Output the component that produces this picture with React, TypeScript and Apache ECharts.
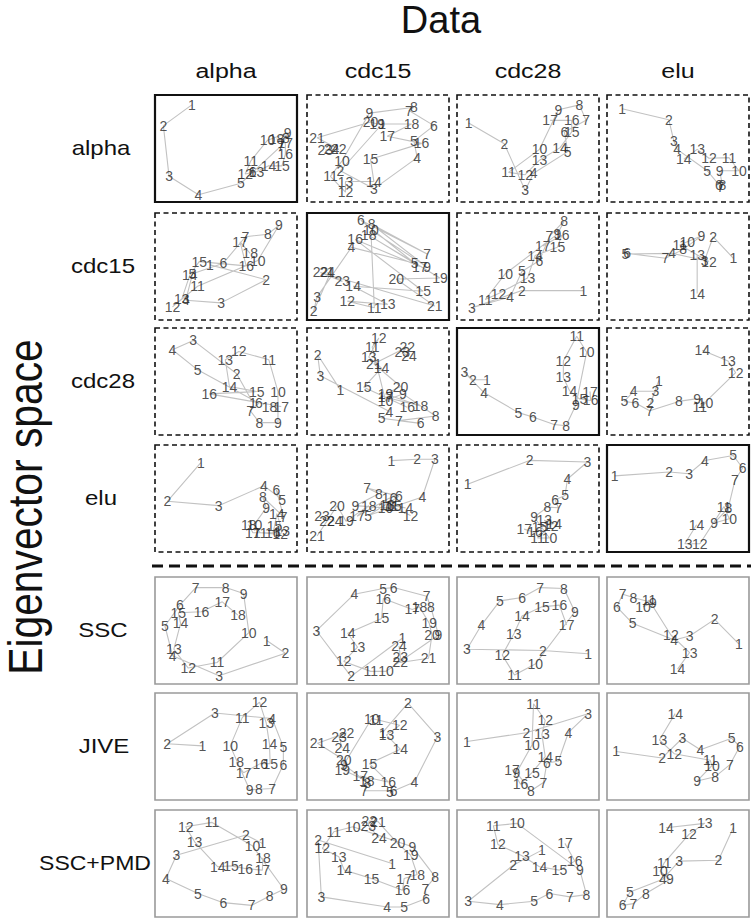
import React, { useEffect, useRef } from "react";
import * as echarts from "echarts";

// Column headers (data sets) and row labels (eigenvector spaces)
const dataSets = ["alpha", "cdc15", "cdc28", "elu"];
const spaces = ["alpha", "cdc15", "cdc28", "elu", "SSC", "JIVE", "SSC+PMD"];

// Projected coordinates (arbitrary units 0-100), point k is time point k+1
// Row: alpha eigenvector space
const a_alpha = [[25.9,90.8],[5.9,71.4],[9.9,24],[30.6,6.8],[60.5,17.5],[68.7,27.7],[88.7,52.3],[92.2,60],[93.4,64.6],[79.3,57.8],[67.5,38.5],[63.5,26.2],[71.5,28.3],[80,33.8],[89.4,33.8],[91.8,44.6],[91.8,54.8],[85.6,59.1]];
const a_cdc15 = [[52.9,72.9],[23.5,29.2],[47.1,12.3],[77.6,41.5],[75.3,56.9],[89.4,71.4],[71.8,85.5],[75.3,88.6],[44,83.1],[24.7,38.5],[16.5,24],[27.1,9.2],[27.1,19.1],[47.1,19.1],[44.7,40],[80.7,54.8],[56.5,61.5],[73.6,72.9],[49.4,72.9],[44.7,74.8],[7.1,60],[22.4,49.2],[12.9,48.6],[17.2,49.2]];
const a_cdc28 = [[8.2,73.8],[33.3,54.5],[48,10.8],[53.9,26.8],[78,47.1],[75.6,65.5],[90.9,76.3],[86.2,90.8],[71.4,86.2],[58.1,49.2],[36.3,27.7],[48,25.5],[58.1,39.1],[72.6,50.8],[80.8,65.5],[80.8,76.3],[65.6,76.3]];
const a_elu = [[10.6,87.1],[43.5,76.9],[47.1,56.9],[49.4,49.2],[70.6,29.2],[78.8,16.3],[80,13.8],[81.2,16.3],[79.3,29.2],[92.9,29.2],[85.9,41.5],[71.8,40.9],[63.5,49.2],[54.1,40]];
// Row: cdc15 eigenvector space
const c15_alpha = [[38.7,51.5],[78.3,37.7],[46.5,16],[21.7,18.5],[26.4,43.2],[48.1,53.1],[63.7,77.8],[79.5,80.2],[87.3,88.6],[72.4,55.6],[30,31.5],[12.3,12.3],[18.9,19.8],[24.5,42],[31.1,54.6],[64.2,50.6],[59.9,73.1],[67,62.3]];
const c15_cdc15 = [[16.6,44.4],[4.7,8.3],[7.1,21.6],[31.3,67.9],[75.8,53.1],[37.9,93.2],[84.6,61.7],[45.5,89.5],[84.6,49.4],[45,84],[47.4,11.4],[28.4,17.6],[56.9,14.5],[32.5,31.5],[81.8,26.9],[33.9,75.3],[79.4,50],[43.4,79.3],[93.6,39.2],[62.8,38.3],[90,13],[9.5,44.4],[24.9,36.1],[14.2,44.4]];
const c15_cdc28 = [[89,27.5],[45.7,27.5],[10.5,11.4],[37.5,21.6],[45.7,45.4],[58.1,55.6],[65.1,78.4],[75.4,92.3],[70.7,80.2],[34,43.2],[19.9,19.1],[29.3,24.7],[49.6,39.2],[55,60.2],[70.7,67.9],[73.8,79.3],[60.4,69.1]];
const c15_elu = [[89,57.7],[74.8,77.8],[68.7,55.6],[45.9,62.3],[12.9,61.7],[14.1,62.3],[41.2,57.7],[53.6,66],[66.4,78.4],[56.5,73.1],[51.3,70.1],[71.8,54.6],[63.5,60.8],[63.5,24.7]];
// Row: cdc28 eigenvector space
const c28_alpha = [[68.9,30.3],[57.5,57.2],[26.9,88.4],[12.3,79.7],[30,60.9],[73.1,29.7],[67,22.8],[73.6,11.6],[86.6,11.6],[86.6,40.6],[80.2,70.3],[59,78.1],[49.5,70.3],[52.4,45.3],[71.7,40.6],[38.2,38.4],[88.9,26.6],[80.7,26.6]];
const c28_cdc15 = [[23.5,42.2],[7.5,75],[9.4,55.3],[58.1,21.9],[52.5,15.6],[80,10.9],[64.7,13.4],[90.6,17.8],[67.5,38.4],[55.3,32.2],[45.9,82.2],[50.6,90.6],[43.5,72.8],[52.5,62.5],[40,44.7],[70.6,25.9],[55.3,35.3],[80,27.2],[55.3,38.4],[65.9,45.3],[47.1,66.6],[70.6,82.2],[67.1,77.2],[71.8,73.4]];
const c28_cdc28 = [[21.1,51.7],[11.2,51.7],[5.2,58.5],[19.2,39.4],[43.3,20.9],[53.4,16.9],[68.4,9.8],[76.8,8.6],[83.8,28.3],[91.3,77.5],[84.3,92.3],[74.9,69.2],[74.9,53.8],[79.2,41.5],[86.2,33.8],[94.1,32.3],[93.7,40.6]];
const c28_elu = [[36.5,50.9],[30.6,29.9],[34.1,40.9],[18.8,40.9],[12.2,31.4],[20,29.9],[30.1,22.6],[50.6,31.4],[63.5,34],[69.4,29.9],[65.4,25.8],[90.6,58.2],[85.2,69.2],[67.1,79.2]];
// Row: elu eigenvector space
const e_alpha = [[32.3,83.6],[8.7,47.4],[44.8,43.3],[76.7,61.9],[89.6,48.9],[85.4,58.2],[90.6,32.8],[75.9,51.4],[78.3,41.2],[70,25.7],[74.1,18],[88.2,16.4],[89.6,19.5],[85.8,35.9],[84.2,24.1],[83,18],[68.9,18],[66,25.7]];
const e_cdc15 = [[59.5,85.4],[77.6,86.7],[90.1,86.7],[81.2,51.4],[43.1,34.1],[64.7,52],[42.4,59.8],[50.6,54.5],[34.1,43.3],[55.3,41.2],[59.5,42.7],[72.9,34.1],[56.5,44.3],[69.4,41.2],[61.2,43.3],[58.1,50.5],[35.3,33.4],[43.5,43.3],[27.5,28.8],[21.2,43.3],[7.1,14.9],[14.1,28.8],[10.6,33.4],[19.5,28.8]];
const e_cdc28 = [[7.5,63.3],[51.1,85.6],[91.8,84.1],[77.8,68.2],[76.1,52.9],[69.1,48.9],[71.4,41.3],[63.7,41.9],[54.3,32.7],[65.1,13.1],[56.7,13.1],[66,24.5],[61.4,29.7],[68.4,26.6],[58.1,22.9],[55,18.3],[47.3,21.4]];
const e_elu = [[5.4,71.1],[43.8,74.8],[57.9,73.2],[68.9,85.5],[88.9,90.2],[95.5,78.5],[90.1,67.1],[85.4,40.9],[75.5,27.1],[86.1,31.1],[82.4,42.5],[65.4,7.7],[54.8,7.7],[63.1,25.5]];
// Row: SSC
const ssc_alpha = [[78.7,40.6],[91.8,28.8],[45.1,7.7],[12.4,26.3],[7,54.2],[17.5,73.7],[28.7,90.1],[49.8,90.1],[62.4,84.5],[66.1,48],[43.7,20.1],[23.4,14.9],[13.3,32.5],[18,56.7],[16.4,66.6],[32.7,67.5],[47.4,76.8],[58.4,64.4]];
const ssc_cdc15 = [[67.1,42.7],[31,7.1],[6.7,49.8],[33.3,83.9],[53.7,89.2],[61.1,90.1],[84.3,82],[87.3,71.5],[92.6,45.8],[55.6,11.8],[44.9,11.8],[25.9,21.1],[35.6,34.4],[28.7,47.4],[52.5,61.3],[53.7,79.9],[74.1,69.7],[79.2,72.1],[86.1,56.7],[88,45.8],[85.6,24.1],[65.7,20.1],[65.7,25.7],[64.8,35.6]];
const ssc_cdc28 = [[92.3,28.2],[60.5,31.3],[7,32.5],[17.2,55.1],[30.2,77.7],[45.8,80.8],[58.6,90.1],[75.3,89.2],[83,67.5],[55.1,18.6],[40.5,8.4],[31.9,27],[40,46.7],[45.8,63.5],[59.8,72.1],[72.1,73.7],[77.2,55.1]];
const ssc_elu = [[92.8,37.5],[75.8,60.4],[58.2,44.9],[47.3,41.2],[18,56.7],[6.9,72.1],[11.1,83.9],[18.5,80.8],[32.3,75.9],[25.4,72.1],[29.6,78.3],[45,45.8],[58.2,29.4],[49.7,13.9]];
// Row: JIVE
const jive_alpha = [[33.4,50.6],[8.6,52.5],[42.1,81.3],[82.5,76.1],[90.4,49.4],[90.4,33.1],[82.5,10.7],[73.1,10.1],[66.6,9.5],[53,50.6],[61.4,77],[73.6,91.4],[78.3,72.1],[80.6,52.5],[81.1,34],[74.1,34],[62.4,25.5],[57.2,35.3]];
const jive_cdc15 = [[53.2,62.9],[71.1,90.5],[91.9,59.2],[75.7,16.9],[58.3,7.1],[61.1,8.6],[40.3,8.6],[42.6,16.3],[25.9,33.1],[45.6,76.1],[48.6,75.2],[65.3,69.9],[56,60.7],[65.7,47.5],[44,34],[57.2,16.9],[37.5,22.4],[42.1,17.8],[24.8,28.5],[25.9,37.7],[7.4,53.1],[27.8,62.9],[22.5,59.2],[24.8,48.5]];
const jive_cdc28 = [[7,54.6],[48.8,62.9],[92.3,80.7],[78.4,62.9],[71.4,36.2],[63.3,34.7],[60.9,16.3],[52.1,8.6],[41.9,25.5],[52.8,51.5],[53.9,89.9],[62.1,74.5],[59.8,61.3],[62.1,40.5],[52.8,25.5],[44.7,14.7],[38.8,28.5]];
const jive_elu = [[6.5,45.4],[38.8,39.3],[53.1,57.7],[65.8,46.9],[87.8,57.7],[93.5,50],[86.6,33.1],[76.2,21.8],[63.5,17.8],[73.9,32.2],[72.7,37.1],[47.3,43.3],[36.9,56.1],[48,80.7]];
// Row: SSC+PMD
const pmd_alpha = [[75.6,68.8],[64,76.6],[15.1,57.8],[7.7,35.9],[30.2,21.9],[48.1,13.4],[68.1,10.9],[80.7,19.7],[90.7,25.9],[68.6,66.6],[40.2,88.4],[21.6,84.4],[27.9,70.3],[44.2,46.9],[53.5,47.8],[63.5,45.3],[75.6,43.8],[76,55.3]];
const pmd_cdc15 = [[59.9,50],[7.8,71.9],[10.1,18.8],[56.5,9.4],[68.4,9.4],[83.9,17.2],[83.4,26.6],[90.3,37.5],[74.2,65.6],[32.3,84.4],[18.9,79.7],[10.8,64.1],[22.4,56.3],[26.3,43.8],[45.4,35.9],[67.3,25],[68.4,35.9],[77.6,39.7],[73,57.8],[63.8,68.8],[50,89.1],[43.8,89.7],[43.1,85.3],[50.7,74.1]];
const pmd_cdc28 = [[59.8,62.5],[39.5,48.4],[7.9,14.7],[30.2,11.6],[54.4,14.7],[65.1,21.9],[79.5,18.8],[91.2,20.9],[86.5,43.8],[42.3,87.5],[25.6,85.3],[28.8,67.8],[45.8,57.2],[58.1,46.9],[72.1,43.8],[83,52.2],[76,68.8]];
const pmd_elu = [[88.9,83.4],[78.5,53.1],[50.8,52.2],[39.3,35.3],[16.2,23.4],[11.1,10.9],[18.5,12.5],[27.3,21.9],[44.3,35.3],[37.4,42.8],[40.4,50.9],[57.7,77.2],[68.8,87.5],[41.6,83.4]];

const panels = [
  [a_alpha, a_cdc15, a_cdc28, a_elu],
  [c15_alpha, c15_cdc15, c15_cdc28, c15_elu],
  [c28_alpha, c28_cdc15, c28_cdc28, c28_elu],
  [e_alpha, e_cdc15, e_cdc28, e_elu],
  [ssc_alpha, ssc_cdc15, ssc_cdc28, ssc_elu],
  [jive_alpha, jive_cdc15, jive_cdc28, jive_elu],
  [pmd_alpha, pmd_cdc15, pmd_cdc28, pmd_elu],
];

// Layout
const colLeft = [155, 307, 457, 607];
const rowTop = [95, 213, 328, 445, 577, 693, 810];
const rowLabelX = [101, 103, 103, 101, 103, 104, 95];
const PW = 142;
const PH = 107;
const FONT = "'Liberation Sans', Arial, Helvetica, sans-serif";

export default function App() {
  const ref = useRef<HTMLDivElement>(null);
  useEffect(() => {
    const chart = echarts.init(ref.current as HTMLDivElement, null, { renderer: "svg" });
    const grid: any[] = [];
    const xAxis: any[] = [];
    const yAxis: any[] = [];
    const series: any[] = [];
    const graphic: any[] = [];

    panels.forEach((row, r) => {
      row.forEach((pts, c) => {
        const i = r * 4 + c;
        grid.push({ left: colLeft[c], top: rowTop[r], width: PW, height: PH, show: false });
        xAxis.push({ type: "value", gridIndex: i, min: 0, max: 100, show: false });
        yAxis.push({ type: "value", gridIndex: i, min: 0, max: 100, show: false });
        series.push({
          type: "line",
          xAxisIndex: i,
          yAxisIndex: i,
          data: pts,
          symbol: "none",
          silent: true,
          clip: false,
          lineStyle: { color: "#c2c2c2", width: 1.1 },
          z: 1,
        });
        series.push({
          type: "scatter",
          xAxisIndex: i,
          yAxisIndex: i,
          data: pts,
          symbolSize: 1,
          itemStyle: { color: "rgba(0,0,0,0)" },
          label: {
            show: true,
            position: "inside",
            formatter: (p: any) => String(p.dataIndex + 1),
            color: "#262626",
            fontSize: 14,
            fontFamily: FONT,
          },
          z: 2,
        });
        const diag = r < 4 && r === c;
        const top4 = r < 4;
        graphic.push({
          type: "rect",
          shape: { x: colLeft[c], y: rowTop[r], width: PW, height: PH },
          style: {
            fill: "none",
            stroke: top4 ? "#111" : "#9a9a9a",
            lineWidth: diag ? 2.2 : 1.6,
            lineDash: top4 && !diag ? [5, 3.5] : null,
          },
          z: 3,
          silent: true,
        });
      });
    });

    // separator between single-dataset spaces and joint methods
    graphic.push({
      type: "line",
      shape: { x1: 152, y1: 566, x2: 751, y2: 566 },
      style: { stroke: "#111", lineWidth: 3, lineDash: [11, 6] },
      silent: true,
    });

    const txt = (text: string, x: number, y: number, fontSize: number, extra: any = {}) => ({
      type: "text",
      x,
      y,
      ...extra,
      style: {
        text,
        fontSize,
        fontFamily: FONT,
        fill: "#111",
        align: "center",
        verticalAlign: "middle",
        textAlign: "center",
        textVerticalAlign: "middle",
      },
      silent: true,
    });

    graphic.push(txt("Data", 441, 20, 38));
    dataSets.forEach((d, c) => graphic.push(txt(d, colLeft[c] + PW / 2, 71, 20, { scaleX: 1.25 })));
    spaces.forEach((s, r) =>
      graphic.push(txt(s, rowLabelX[r], rowTop[r] + PH / 2, 20, { scaleX: s === "SSC+PMD" ? 1.15 : 1.2 }))
    );
    graphic.push(txt("Eigenvector space", 25, 507, 48, { rotation: Math.PI / 2, scaleX: 0.85 }));

    chart.setOption({
      animation: false,
      backgroundColor: "#fff",
      grid,
      xAxis,
      yAxis,
      series,
      graphic,
    });
    return () => chart.dispose();
  }, []);

  return (
    <div
      ref={ref}
      style={{ position: "fixed", left: 0, top: 0, width: 754, height: 919 }}
    />
  );
}
